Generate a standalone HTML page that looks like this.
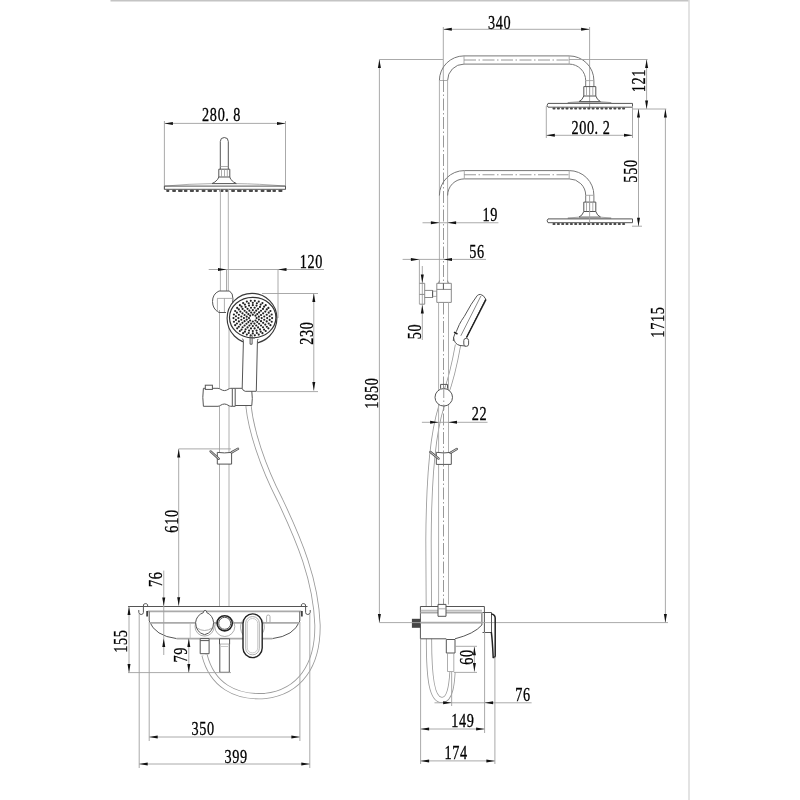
<!DOCTYPE html>
<html><head><meta charset="utf-8"><style>
html,body{margin:0;padding:0;background:#fff;}
svg{display:block;will-change:transform;}
text{font-family:"Liberation Serif",serif;font-size:19.5px;fill:#000;stroke:#000;stroke-width:0.32;text-anchor:middle;}
.o{stroke:#555;stroke-width:1;fill:none;}
.a{stroke:#777;stroke-width:1;fill:none;}
.m{stroke:#8a8a8a;stroke-width:1;fill:none;}
.p{stroke:#b0b0b0;stroke-width:1;fill:none;}
.o2{stroke:#222;stroke-width:1.5;fill:none;}
.l{stroke:#999;stroke-width:0.8;fill:none;}
.h{stroke:#bbb;stroke-width:0.8;fill:none;}
.d{stroke:#a0a0a0;stroke-width:0.9;fill:none;}
.c{stroke:#8c8c8c;stroke-width:0.9;fill:none;stroke-dasharray:12 2.5 1.5 2.5;}
.g2{stroke:#aaa;stroke-width:1.8;fill:none;}
.ar{fill:#111;stroke:none;}
.nz{fill:#4a4a4a;}
.n{stroke:none;}
.w1{stroke:#555;stroke-width:2.4;stroke-linecap:round;fill:none;}
.w2{stroke:#fff;stroke-width:0.7;stroke-linecap:round;fill:none;}
.dt{fill:#222;}
.bd{stroke:#c4c4c4;stroke-width:1.6;}
.bd2{stroke:#dcdcdc;stroke-width:1.6;}
.hoseo{stroke:#9a9a9a;stroke-width:6.2;fill:none;}
.hosei{stroke:#fff;stroke-width:4.5;fill:none;}
</style></head><body>
<svg width="800" height="800" viewBox="0 0 800 800">
<path class="hoseo" d="M248.5 406 C251 430 262 465 280 500 C299 540 316 580 317.5 625 C318 665 300 692 265 696 C235 698 212 685 204.5 655"/>
<path class="hosei" d="M248.5 406 C251 430 262 465 280 500 C299 540 316 580 317.5 625 C318 665 300 692 265 696 C235 698 212 685 204.5 655"/>
<path class="hoseo" d="M458 345 C455 362 451 380 445 396 C437 416 429 450 428.5 540 L429 640 C429 680 432 700 442 700 C451 700 452 680 452.5 672"/>
<path class="hosei" d="M458 345 C455 362 451 380 445 396 C437 416 429 450 428.5 540 L429 640 C429 680 432 700 442 700 C451 700 452 680 452.5 672"/>
<line class="bd" x1="110.5" y1="0.6" x2="689" y2="0.6"/>
<line class="bd2" x1="689" y1="0" x2="689" y2="800"/>
<line class="d" x1="164.4" y1="123.4" x2="285.5" y2="123.4"/>
<path class="ar" d="M164.40 123.40L172.90 121.90L172.90 124.90Z"/>
<path class="ar" d="M285.50 123.40L277.00 124.90L277.00 121.90Z"/>
<line class="d" x1="164.4" y1="121" x2="164.4" y2="189.5"/>
<line class="d" x1="285.5" y1="121" x2="285.5" y2="189.5"/>
<text transform="translate(221.20 114.80) scale(0.73 1)" x="-21.37 -10.68 0.00 7.95 21.37" y="6.48">280.8</text>
<path class="o" d="M220.3 169.2V141.5A4 4 0 0 1 228.3 141.5V169.2" />
<line class="l" x1="220.3" y1="166.5" x2="228.3" y2="166.5"/>
<path class="o" d="M218.8 169.2H229.8V177H218.8Z" />
<line class="l" x1="221.5" y1="169.5" x2="221.5" y2="177"/>
<line class="l" x1="224.5" y1="169.5" x2="224.5" y2="177"/>
<line class="l" x1="227.3" y1="169.5" x2="227.3" y2="177"/>
<path class="o" d="M218.8 177L217.7 179.3Q215 182.5 212 183.6H236.5Q233.5 182.5 230.7 179.3L229.8 177" />
<path class="l" d="M164.4 186.1Q190 183.8 212 183.6M236.5 183.6Q258 183.8 285.5 186.1" />
<path class="o" d="M164.4 186.1H285.5V189.3H164.4Z" />
<rect class="nz" x="166.2" y="189.7" width="3.2" height="2.3" rx="1"/>
<rect class="nz" x="172.1" y="189.7" width="3.9" height="2.3" rx="1"/>
<rect class="nz" x="178.0" y="189.7" width="4.6" height="2.3" rx="1"/>
<rect class="nz" x="183.9" y="189.7" width="3.6" height="2.3" rx="1"/>
<rect class="nz" x="189.8" y="189.7" width="4.2" height="2.3" rx="1"/>
<rect class="nz" x="195.7" y="189.7" width="3.2" height="2.3" rx="1"/>
<rect class="nz" x="201.6" y="189.7" width="3.9" height="2.3" rx="1"/>
<rect class="nz" x="207.5" y="189.7" width="4.6" height="2.3" rx="1"/>
<rect class="nz" x="213.4" y="189.7" width="3.6" height="2.3" rx="1"/>
<rect class="nz" x="219.3" y="189.7" width="4.2" height="2.3" rx="1"/>
<rect class="nz" x="225.2" y="189.7" width="3.2" height="2.3" rx="1"/>
<rect class="nz" x="231.1" y="189.7" width="3.9" height="2.3" rx="1"/>
<rect class="nz" x="237.0" y="189.7" width="4.6" height="2.3" rx="1"/>
<rect class="nz" x="242.9" y="189.7" width="3.6" height="2.3" rx="1"/>
<rect class="nz" x="248.8" y="189.7" width="4.2" height="2.3" rx="1"/>
<rect class="nz" x="254.7" y="189.7" width="3.2" height="2.3" rx="1"/>
<rect class="nz" x="260.6" y="189.7" width="3.9" height="2.3" rx="1"/>
<rect class="nz" x="266.5" y="189.7" width="4.6" height="2.3" rx="1"/>
<rect class="nz" x="272.4" y="189.7" width="3.6" height="2.3" rx="1"/>
<rect class="nz" x="278.3" y="189.7" width="4.2" height="2.3" rx="1"/>
<line class="p" x1="220.4" y1="189.3" x2="220.4" y2="291"/>
<line class="p" x1="228.3" y1="189.3" x2="228.3" y2="291"/>
<line class="p" x1="219.5" y1="310" x2="219.5" y2="606.5"/>
<line class="p" x1="229.0" y1="310" x2="229.0" y2="606.5"/>
<line class="d" x1="208.7" y1="269.5" x2="324" y2="269.5"/>
<path class="ar" d="M226.50 269.50L218.00 271.00L218.00 268.00Z"/>
<path class="ar" d="M278.00 269.50L286.50 268.00L286.50 271.00Z"/>
<line class="d" x1="226.5" y1="269.5" x2="226.5" y2="291"/>
<line class="d" x1="278" y1="269.5" x2="278" y2="318"/>
<text transform="translate(311.00 261.40) scale(0.73 1)" x="-10.68 0.00 10.68" y="6.48">120</text>
<path class="o" d="M219 291H229.5Q233 293 233 299Q233 305 230 309M219 291Q212.5 294 212.5 301.5Q212.5 309 219 312.5H226" />
<line class="l" x1="217.2" y1="298.4" x2="232.5" y2="298.4"/>
<line class="l" x1="217.4" y1="298.4" x2="217.4" y2="312"/>
<line class="l" x1="224.4" y1="298.4" x2="224.4" y2="312"/>
<ellipse cx="252" cy="318.3" rx="24.9" ry="25" fill="#fff" stroke="#3a3a3a" stroke-width="1.15"/>
<path class="n" d="M243.4 341.6Q243.6 340 242.4 338.6L243 336H257L258 339Q257.3 340.5 257.4 342.3L256.3 391.3H245.2Q242.6 390.6 242.2 388.3Z" style="fill:#fff"/>
<path class="o" d="M243.4 341.6Q243.6 340 242.4 338.6" />
<path class="o" d="M257.4 342.3Q257.3 340.5 258 339" />
<path class="o" d="M243.4 341.6L242.2 388.3Q242.6 390.6 245.2 391.3H256.3L257.4 342.3" />
<ellipse cx="252.7" cy="317.6" rx="23.2" ry="20.2" fill="#fff" stroke="#333" stroke-width="1.2"/>
<circle class="dt" cx="256.60" cy="318.10" r="1.08"/>
<circle class="dt" cx="255.49" cy="320.52" r="1.08"/>
<circle class="dt" cx="252.80" cy="321.52" r="1.08"/>
<circle class="dt" cx="250.11" cy="320.52" r="1.08"/>
<circle class="dt" cx="249.00" cy="318.10" r="1.08"/>
<circle class="dt" cx="250.11" cy="315.68" r="1.08"/>
<circle class="dt" cx="252.80" cy="314.68" r="1.08"/>
<circle class="dt" cx="255.49" cy="315.68" r="1.08"/>
<circle class="dt" cx="258.89" cy="319.57" r="1.08"/>
<circle class="dt" cx="257.25" cy="322.11" r="1.08"/>
<circle class="dt" cx="254.43" cy="323.58" r="1.08"/>
<circle class="dt" cx="251.17" cy="323.58" r="1.08"/>
<circle class="dt" cx="248.35" cy="322.11" r="1.08"/>
<circle class="dt" cx="246.71" cy="319.57" r="1.08"/>
<circle class="dt" cx="246.71" cy="316.63" r="1.08"/>
<circle class="dt" cx="248.35" cy="314.09" r="1.08"/>
<circle class="dt" cx="251.17" cy="312.62" r="1.08"/>
<circle class="dt" cx="254.43" cy="312.62" r="1.08"/>
<circle class="dt" cx="257.25" cy="314.09" r="1.08"/>
<circle class="dt" cx="258.89" cy="316.63" r="1.08"/>
<circle class="dt" cx="261.70" cy="318.10" r="1.08"/>
<circle class="dt" cx="261.02" cy="321.17" r="1.08"/>
<circle class="dt" cx="259.09" cy="323.76" r="1.08"/>
<circle class="dt" cx="256.21" cy="325.50" r="1.08"/>
<circle class="dt" cx="252.80" cy="326.11" r="1.08"/>
<circle class="dt" cx="249.39" cy="325.50" r="1.08"/>
<circle class="dt" cx="246.51" cy="323.76" r="1.08"/>
<circle class="dt" cx="244.58" cy="321.17" r="1.08"/>
<circle class="dt" cx="243.90" cy="318.10" r="1.08"/>
<circle class="dt" cx="244.58" cy="315.03" r="1.08"/>
<circle class="dt" cx="246.51" cy="312.44" r="1.08"/>
<circle class="dt" cx="249.39" cy="310.70" r="1.08"/>
<circle class="dt" cx="252.80" cy="310.09" r="1.08"/>
<circle class="dt" cx="256.21" cy="310.70" r="1.08"/>
<circle class="dt" cx="259.09" cy="312.44" r="1.08"/>
<circle class="dt" cx="261.02" cy="315.03" r="1.08"/>
<circle class="dt" cx="264.26" cy="319.73" r="1.08"/>
<circle class="dt" cx="263.14" cy="322.84" r="1.08"/>
<circle class="dt" cx="261.00" cy="325.48" r="1.08"/>
<circle class="dt" cx="258.07" cy="327.40" r="1.08"/>
<circle class="dt" cx="254.61" cy="328.41" r="1.08"/>
<circle class="dt" cx="250.99" cy="328.41" r="1.08"/>
<circle class="dt" cx="247.53" cy="327.40" r="1.08"/>
<circle class="dt" cx="244.60" cy="325.48" r="1.08"/>
<circle class="dt" cx="242.46" cy="322.84" r="1.08"/>
<circle class="dt" cx="241.34" cy="319.73" r="1.08"/>
<circle class="dt" cx="241.34" cy="316.47" r="1.08"/>
<circle class="dt" cx="242.46" cy="313.36" r="1.08"/>
<circle class="dt" cx="244.60" cy="310.72" r="1.08"/>
<circle class="dt" cx="247.53" cy="308.80" r="1.08"/>
<circle class="dt" cx="250.99" cy="307.79" r="1.08"/>
<circle class="dt" cx="254.61" cy="307.79" r="1.08"/>
<circle class="dt" cx="258.07" cy="308.80" r="1.08"/>
<circle class="dt" cx="261.00" cy="310.72" r="1.08"/>
<circle class="dt" cx="263.14" cy="313.36" r="1.08"/>
<circle class="dt" cx="264.26" cy="316.47" r="1.08"/>
<circle class="dt" cx="267.20" cy="318.10" r="1.08"/>
<circle class="dt" cx="266.71" cy="321.45" r="1.08"/>
<circle class="dt" cx="265.27" cy="324.58" r="1.08"/>
<circle class="dt" cx="262.98" cy="327.26" r="1.08"/>
<circle class="dt" cx="260.00" cy="329.32" r="1.08"/>
<circle class="dt" cx="256.53" cy="330.62" r="1.08"/>
<circle class="dt" cx="252.80" cy="331.06" r="1.08"/>
<circle class="dt" cx="249.07" cy="330.62" r="1.08"/>
<circle class="dt" cx="245.60" cy="329.32" r="1.08"/>
<circle class="dt" cx="242.62" cy="327.26" r="1.08"/>
<circle class="dt" cx="240.33" cy="324.58" r="1.08"/>
<circle class="dt" cx="238.89" cy="321.45" r="1.08"/>
<circle class="dt" cx="238.40" cy="318.10" r="1.08"/>
<circle class="dt" cx="238.89" cy="314.75" r="1.08"/>
<circle class="dt" cx="240.33" cy="311.62" r="1.08"/>
<circle class="dt" cx="242.62" cy="308.94" r="1.08"/>
<circle class="dt" cx="245.60" cy="306.88" r="1.08"/>
<circle class="dt" cx="249.07" cy="305.58" r="1.08"/>
<circle class="dt" cx="252.80" cy="305.14" r="1.08"/>
<circle class="dt" cx="256.53" cy="305.58" r="1.08"/>
<circle class="dt" cx="260.00" cy="306.88" r="1.08"/>
<circle class="dt" cx="262.98" cy="308.94" r="1.08"/>
<circle class="dt" cx="265.27" cy="311.62" r="1.08"/>
<circle class="dt" cx="266.71" cy="314.75" r="1.08"/>
<circle class="dt" cx="269.68" cy="319.94" r="1.08"/>
<circle class="dt" cx="268.70" cy="323.53" r="1.08"/>
<circle class="dt" cx="266.79" cy="326.79" r="1.08"/>
<circle class="dt" cx="264.07" cy="329.55" r="1.08"/>
<circle class="dt" cx="260.70" cy="331.65" r="1.08"/>
<circle class="dt" cx="256.87" cy="332.96" r="1.08"/>
<circle class="dt" cx="252.80" cy="333.40" r="1.08"/>
<circle class="dt" cx="248.73" cy="332.96" r="1.08"/>
<circle class="dt" cx="244.90" cy="331.65" r="1.08"/>
<circle class="dt" cx="241.53" cy="329.55" r="1.08"/>
<circle class="dt" cx="238.81" cy="326.79" r="1.08"/>
<circle class="dt" cx="236.90" cy="323.53" r="1.08"/>
<circle class="dt" cx="235.92" cy="319.94" r="1.08"/>
<circle class="dt" cx="235.92" cy="316.26" r="1.08"/>
<circle class="dt" cx="236.90" cy="312.67" r="1.08"/>
<circle class="dt" cx="238.81" cy="309.41" r="1.08"/>
<circle class="dt" cx="241.53" cy="306.65" r="1.08"/>
<circle class="dt" cx="244.90" cy="304.55" r="1.08"/>
<circle class="dt" cx="248.73" cy="303.24" r="1.08"/>
<circle class="dt" cx="252.80" cy="302.80" r="1.08"/>
<circle class="dt" cx="256.87" cy="303.24" r="1.08"/>
<circle class="dt" cx="260.70" cy="304.55" r="1.08"/>
<circle class="dt" cx="264.07" cy="306.65" r="1.08"/>
<circle class="dt" cx="266.79" cy="309.41" r="1.08"/>
<circle class="dt" cx="268.70" cy="312.67" r="1.08"/>
<circle class="dt" cx="269.68" cy="316.26" r="1.08"/>
<circle class="dt" cx="272.10" cy="318.10" r="1.08"/>
<circle class="dt" cx="271.68" cy="321.71" r="1.08"/>
<circle class="dt" cx="270.43" cy="325.17" r="1.08"/>
<circle class="dt" cx="268.41" cy="328.31" r="1.08"/>
<circle class="dt" cx="265.71" cy="331.01" r="1.08"/>
<circle class="dt" cx="262.45" cy="333.14" r="1.08"/>
<circle class="dt" cx="258.76" cy="334.62" r="1.08"/>
<circle class="dt" cx="254.82" cy="335.37" r="1.08"/>
<circle class="dt" cx="250.78" cy="335.37" r="1.08"/>
<circle class="dt" cx="246.84" cy="334.62" r="1.08"/>
<circle class="dt" cx="243.15" cy="333.14" r="1.08"/>
<circle class="dt" cx="239.89" cy="331.01" r="1.08"/>
<circle class="dt" cx="237.19" cy="328.31" r="1.08"/>
<circle class="dt" cx="235.17" cy="325.17" r="1.08"/>
<circle class="dt" cx="233.92" cy="321.71" r="1.08"/>
<circle class="dt" cx="233.50" cy="318.10" r="1.08"/>
<circle class="dt" cx="233.92" cy="314.49" r="1.08"/>
<circle class="dt" cx="235.17" cy="311.03" r="1.08"/>
<circle class="dt" cx="237.19" cy="307.89" r="1.08"/>
<circle class="dt" cx="239.89" cy="305.19" r="1.08"/>
<circle class="dt" cx="243.15" cy="303.06" r="1.08"/>
<circle class="dt" cx="246.84" cy="301.58" r="1.08"/>
<circle class="dt" cx="250.78" cy="300.83" r="1.08"/>
<circle class="dt" cx="254.82" cy="300.83" r="1.08"/>
<circle class="dt" cx="258.76" cy="301.58" r="1.08"/>
<circle class="dt" cx="262.45" cy="303.06" r="1.08"/>
<circle class="dt" cx="265.71" cy="305.19" r="1.08"/>
<circle class="dt" cx="268.41" cy="307.89" r="1.08"/>
<circle class="dt" cx="270.43" cy="311.03" r="1.08"/>
<circle class="dt" cx="271.68" cy="314.49" r="1.08"/>
<path class="o" d="M250.1 335.3V344.2H252.1V335.3" />
<line class="d" x1="262" y1="293.5" x2="318" y2="293.5"/>
<line class="d" x1="257" y1="391.6" x2="318" y2="391.6"/>
<line class="d" x1="313.8" y1="293.5" x2="313.8" y2="390.6"/>
<path class="ar" d="M313.80 293.50L315.30 302.00L312.30 302.00Z"/>
<path class="ar" d="M313.80 390.60L312.30 382.10L315.30 382.10Z"/>
<text transform="translate(306.30 333.40) rotate(-90) scale(0.73 1)" x="-10.68 0.00 10.68" y="6.48">230</text>
<path class="o" d="M203.4 388.3H218C220 388.3 221.5 390.6 224.4 390.6C227.3 390.6 228.8 388.3 230.8 388.3H232.3V406.3H230.8C228.8 406.3 227.3 404 224.4 404C221.5 404 220 406.3 218 406.3H203.4Q202.2 397.3 203.4 388.3Z" style="fill:#fff"/>
<path class="o" d="M232.3 388.3H235.2V406.3H232.3" />
<path class="o" d="M235.2 388.3H242.2M251.8 391.3Q252.8 398.4 251.8 405.5H235.2" />
<rect class="o" x="205.3" y="385.2" width="7.1" height="4.2" style="fill:#fff"/>
<path class="o" d="M217.3 452.4Q224.4 453.4 231.6 452.4V464.1H217.3Z" style="fill:#fff"/>
<path class="w1" d="M218.8 458.8L210.6 451.4" />
<path class="w2" d="M218.8 458.8L210.6 451.4" />
<path class="w1" d="M231.6 452.4L238 448.8" />
<path class="w2" d="M231.6 452.4L238 448.8" />
<line class="d" x1="178.7" y1="448.9" x2="231" y2="448.9"/>
<line class="d" x1="178.7" y1="448.9" x2="178.7" y2="605.8"/>
<path class="ar" d="M178.70 448.90L180.20 457.40L177.20 457.40Z"/>
<path class="ar" d="M178.70 605.80L177.20 597.30L180.20 597.30Z"/>
<text transform="translate(171.50 521.30) rotate(-90) scale(0.73 1)" x="-10.68 0.00 10.68" y="6.48">610</text>
<line class="o" x1="128" y1="606.5" x2="307.5" y2="606.5"/>
<path class="g2" d="M147.7 611.3H301.3" />
<path class="o" d="M149.2 611.5V621Q155 636 176.6 638.6" />
<path class="o" d="M299.8 611.5V621Q294 636 272.4 638.6" />
<path class="g2" d="M176.6 638.6H272.4" />
<path class="g2" d="M150 622.8H299" />
<line class="h" x1="190.2" y1="622.8" x2="190.2" y2="638.5"/>
<path class="o" d="M147.6 606.5V604.6Q147.2 603.6 145.2 603.6Q142.8 603.8 143.4 606.5V612.5Q143.2 614.5 141.2 614.5Q139 614.4 138.8 612.4V610" />
<path class="o" d="M301.4 606.5V604.6Q301.8 603.6 303.8 603.6Q306.2 603.8 305.6 606.5V612.5Q305.8 614.5 307.8 614.5Q310 614.4 310.2 612.4V610" />
<line class="o2" x1="147.1" y1="611" x2="147.1" y2="616.4"/>
<line class="o2" x1="301.9" y1="611" x2="301.9" y2="616.4"/>
<circle class="l" cx="204.6" cy="626.5" r="9.6"/>
<path class="o" d="M205.1 610.4Q206.8 610.5 206.8 612.6Q212.8 615.3 213.6 622.5Q213.4 632.5 204.6 634.7Q195.8 632.5 195.6 622.5Q196.4 615.3 203.4 612.6Q203.4 610.5 205.1 610.4Z" style="fill:#fff"/>
<path class="l" d="M197 628Q204.6 633 212.2 628" />
<circle class="l" cx="224.8" cy="626.5" r="10"/>
<circle cx="224.7" cy="623.3" r="7.6" fill="#fff" stroke="#222" stroke-width="1.6"/>
<circle class="o" cx="224.7" cy="623.3" r="6.0"/>
<path class="l" d="M241.8 621.5Q238.8 628 243 635M263 621.5Q266.2 628 262 634" />
<rect x="243" y="613.9" width="19.2" height="43.7" rx="9.6" fill="#fff" stroke="#222" stroke-width="1.4"/>
<rect class="l" x="245.7" y="616.6" width="13.6" height="38.2" rx="6.5"/>
<rect class="h" x="247.3" y="618.5" width="10.4" height="34.4" rx="5"/>
<path class="l" d="M266.6 622V616.5Q266.6 615 268.3 615Q270 615 270 616.5V622" />
<path class="o" d="M200.2 638.6H209.1V653.7H200.2Z" style="fill:#fff"/>
<line class="o" x1="200.2" y1="640.6" x2="209.1" y2="640.6"/>
<path class="o" d="M219.5 638.8H229.6V644.3H219.5Z" style="fill:#fff"/>
<path class="o" d="M219.8 644.3V672.3H229.3V644.3" style="fill:#fff"/>
<line class="h" x1="221" y1="646.5" x2="228" y2="646.5"/>
<line class="d" x1="128" y1="672.6" x2="231" y2="672.6"/>
<line class="d" x1="129" y1="606.5" x2="129" y2="672.6"/>
<path class="ar" d="M129.00 606.50L130.50 615.00L127.50 615.00Z"/>
<path class="ar" d="M129.00 672.60L127.50 664.10L130.50 664.10Z"/>
<text transform="translate(120.70 641.50) rotate(-90) scale(0.73 1)" x="-10.68 0.00 10.68" y="6.48">155</text>
<line class="d" x1="163.75" y1="570.6" x2="163.75" y2="655"/>
<path class="ar" d="M163.75 605.90L162.25 597.40L165.25 597.40Z"/>
<path class="ar" d="M163.75 638.50L165.25 647.00L162.25 647.00Z"/>
<text transform="translate(155.60 579.50) rotate(-90) scale(0.73 1)" x="-5.34 5.34" y="6.48">76</text>
<line class="d" x1="188.8" y1="638.5" x2="188.8" y2="672.6"/>
<path class="ar" d="M188.80 638.50L190.30 647.00L187.30 647.00Z"/>
<path class="ar" d="M188.80 672.60L187.30 664.10L190.30 664.10Z"/>
<text transform="translate(180.70 655.00) rotate(-90) scale(0.73 1)" x="-5.34 5.34" y="6.48">79</text>
<line class="d" x1="149.2" y1="622" x2="149.2" y2="741"/>
<line class="d" x1="299.9" y1="622" x2="299.9" y2="741"/>
<line class="d" x1="149.2" y1="737" x2="299.9" y2="737"/>
<path class="ar" d="M149.20 737.00L157.70 735.50L157.70 738.50Z"/>
<path class="ar" d="M299.90 737.00L291.40 738.50L291.40 735.50Z"/>
<text transform="translate(202.80 728.70) scale(0.73 1)" x="-10.68 0.00 10.68" y="6.48">350</text>
<line class="d" x1="139.2" y1="614" x2="139.2" y2="768"/>
<line class="d" x1="309.8" y1="614" x2="309.8" y2="768"/>
<line class="d" x1="139.2" y1="764" x2="309.8" y2="764"/>
<path class="ar" d="M139.20 764.00L147.70 762.50L147.70 765.50Z"/>
<path class="ar" d="M309.80 764.00L301.30 765.50L301.30 762.50Z"/>
<text transform="translate(235.80 756.50) scale(0.73 1)" x="-10.68 0.00 10.68" y="6.48">399</text>
<line class="d" x1="443.3" y1="29.3" x2="589.6" y2="29.3"/>
<path class="ar" d="M443.30 29.30L451.80 27.80L451.80 30.80Z"/>
<path class="ar" d="M589.60 29.30L581.10 30.80L581.10 27.80Z"/>
<text transform="translate(499.30 23.00) scale(0.73 1)" x="-10.68 0.00 10.68" y="6.48">340</text>
<line class="d" x1="443.3" y1="27" x2="443.3" y2="80"/>
<line class="d" x1="589.6" y1="27" x2="589.6" y2="108"/>
<path class="a" d="M439.4 80.5A24.6 24.6 0 0 1 464 55.9H569.2A24.7 24.7 0 0 1 593.9 80.6V86.6" />
<path class="a" d="M447.6 80.5A16.4 16.4 0 0 1 464 64.1H569.2A16.5 16.5 0 0 1 585.7 80.6V86.6" />
<line class="p" x1="439.4" y1="80.5" x2="439.4" y2="283"/>
<line class="p" x1="447.6" y1="80.5" x2="447.6" y2="283"/>
<line class="l" x1="439.4" y1="80.5" x2="447.6" y2="80.5"/>
<line class="l" x1="464" y1="55.9" x2="464" y2="64.1"/>
<line class="l" x1="569.2" y1="55.9" x2="569.2" y2="64.1"/>
<line class="l" x1="585.7" y1="80.6" x2="593.9" y2="80.6"/>
<line class="c" x1="443.5" y1="80" x2="443.5" y2="283"/>
<line class="c" x1="464" y1="60" x2="569" y2="60"/>
<path class="a" d="M439.4 195.5A24.9 24.9 0 0 1 464.3 170.6H569.2A24.7 24.7 0 0 1 593.9 195.3V202" />
<path class="a" d="M447.6 195.5A16.6 16.6 0 0 1 464.3 178.9H569.2A16.5 16.5 0 0 1 585.7 195.3V202" />
<line class="l" x1="464.3" y1="170.6" x2="464.3" y2="178.9"/>
<line class="l" x1="569.2" y1="170.6" x2="569.2" y2="178.9"/>
<line class="l" x1="585.7" y1="195.3" x2="593.9" y2="195.3"/>
<line class="c" x1="464" y1="174.75" x2="569" y2="174.75"/>
<path class="o" d="M583.8 86.6H595.8V96H583.8Z" />
<line class="l" x1="586.5" y1="87" x2="586.5" y2="95.6"/>
<line class="l" x1="589.6" y1="87" x2="589.6" y2="95.6"/>
<line class="l" x1="592.8" y1="87" x2="592.8" y2="95.6"/>
<path class="o" d="M583.8 96Q582.5 100 579 101.6H600.6Q597 100 595.8 96" />
<path class="l" d="M579 101.6L567.8 102.6H611.2L600.6 101.6" />
<path class="o" d="M548 103.4H632.5V107.2H548Q546.2 105.3 548 103.4Z" />
<rect class="nz" x="552.5" y="107.6" width="3.0" height="2.0" rx="0.8"/>
<rect class="nz" x="556.9" y="107.6" width="3.0" height="2.0" rx="0.8"/>
<rect class="nz" x="561.2" y="107.6" width="3.0" height="2.0" rx="0.8"/>
<rect class="nz" x="565.5" y="107.6" width="3.0" height="2.0" rx="0.8"/>
<rect class="nz" x="569.9" y="107.6" width="3.0" height="2.0" rx="0.8"/>
<rect class="nz" x="574.2" y="107.6" width="3.0" height="2.0" rx="0.8"/>
<rect class="nz" x="578.6" y="107.6" width="3.0" height="2.0" rx="0.8"/>
<rect class="nz" x="583.0" y="107.6" width="3.0" height="2.0" rx="0.8"/>
<rect class="nz" x="587.3" y="107.6" width="3.0" height="2.0" rx="0.8"/>
<rect class="nz" x="591.6" y="107.6" width="3.0" height="2.0" rx="0.8"/>
<rect class="nz" x="596.0" y="107.6" width="3.0" height="2.0" rx="0.8"/>
<rect class="nz" x="600.4" y="107.6" width="3.0" height="2.0" rx="0.8"/>
<rect class="nz" x="604.7" y="107.6" width="3.0" height="2.0" rx="0.8"/>
<rect class="nz" x="609.0" y="107.6" width="3.0" height="2.0" rx="0.8"/>
<rect class="nz" x="613.4" y="107.6" width="3.0" height="2.0" rx="0.8"/>
<rect class="nz" x="617.8" y="107.6" width="3.0" height="2.0" rx="0.8"/>
<rect class="nz" x="622.1" y="107.6" width="3.0" height="2.0" rx="0.8"/>
<path class="o" d="M583.8 202.1H595.8V211.5H583.8Z" />
<line class="l" x1="586.5" y1="202.5" x2="586.5" y2="211.1"/>
<line class="l" x1="589.6" y1="202.5" x2="589.6" y2="211.1"/>
<line class="l" x1="592.8" y1="202.5" x2="592.8" y2="211.1"/>
<path class="o" d="M583.8 211.5Q582.5 215.5 579 217.1H600.6Q597 215.5 595.8 211.5" />
<path class="l" d="M579 217.1L567.8 218.1H611.2L600.6 217.1" />
<path class="o" d="M548 218.9H632.5V222.7H548Q546.2 220.8 548 218.9Z" />
<rect class="nz" x="552.5" y="223.1" width="3.0" height="2.0" rx="0.8"/>
<rect class="nz" x="556.9" y="223.1" width="3.0" height="2.0" rx="0.8"/>
<rect class="nz" x="561.2" y="223.1" width="3.0" height="2.0" rx="0.8"/>
<rect class="nz" x="565.5" y="223.1" width="3.0" height="2.0" rx="0.8"/>
<rect class="nz" x="569.9" y="223.1" width="3.0" height="2.0" rx="0.8"/>
<rect class="nz" x="574.2" y="223.1" width="3.0" height="2.0" rx="0.8"/>
<rect class="nz" x="578.6" y="223.1" width="3.0" height="2.0" rx="0.8"/>
<rect class="nz" x="583.0" y="223.1" width="3.0" height="2.0" rx="0.8"/>
<rect class="nz" x="587.3" y="223.1" width="3.0" height="2.0" rx="0.8"/>
<rect class="nz" x="591.6" y="223.1" width="3.0" height="2.0" rx="0.8"/>
<rect class="nz" x="596.0" y="223.1" width="3.0" height="2.0" rx="0.8"/>
<rect class="nz" x="600.4" y="223.1" width="3.0" height="2.0" rx="0.8"/>
<rect class="nz" x="604.7" y="223.1" width="3.0" height="2.0" rx="0.8"/>
<rect class="nz" x="609.0" y="223.1" width="3.0" height="2.0" rx="0.8"/>
<rect class="nz" x="613.4" y="223.1" width="3.0" height="2.0" rx="0.8"/>
<rect class="nz" x="617.8" y="223.1" width="3.0" height="2.0" rx="0.8"/>
<rect class="nz" x="622.1" y="223.1" width="3.0" height="2.0" rx="0.8"/>
<line class="d" x1="589.6" y1="195" x2="589.6" y2="223"/>
<line class="d" x1="569" y1="59.5" x2="647.6" y2="59.5"/>
<line class="d" x1="646.6" y1="59.5" x2="646.6" y2="109"/>
<path class="ar" d="M646.60 59.50L648.10 68.00L645.10 68.00Z"/>
<path class="ar" d="M646.60 109.00L645.10 100.50L648.10 100.50Z"/>
<text transform="translate(638.60 81.00) rotate(-90) scale(0.73 1)" x="-10.68 0.00 10.68" y="6.48">121</text>
<line class="d" x1="632.5" y1="109" x2="666.3" y2="109"/>
<line class="d" x1="546.3" y1="106" x2="546.3" y2="138"/>
<line class="d" x1="632.5" y1="106" x2="632.5" y2="138"/>
<line class="d" x1="546.3" y1="135.3" x2="632.5" y2="135.3"/>
<path class="ar" d="M546.30 135.30L554.80 133.80L554.80 136.80Z"/>
<path class="ar" d="M632.50 135.30L624.00 136.80L624.00 133.80Z"/>
<text transform="translate(590.60 127.30) scale(0.73 1)" x="-21.37 -10.68 0.00 7.95 21.37" y="6.48">200.2</text>
<line class="d" x1="638.5" y1="109" x2="638.5" y2="226.2"/>
<path class="ar" d="M638.50 109.00L640.00 117.50L637.00 117.50Z"/>
<path class="ar" d="M638.50 226.20L637.00 217.70L640.00 217.70Z"/>
<line class="d" x1="632" y1="226.2" x2="642" y2="226.2"/>
<text transform="translate(630.10 171.30) rotate(-90) scale(0.73 1)" x="-10.68 0.00 10.68" y="6.48">550</text>
<line class="d" x1="665.4" y1="109" x2="665.4" y2="622.6"/>
<path class="ar" d="M665.40 109.00L666.90 117.50L663.90 117.50Z"/>
<path class="ar" d="M665.40 622.60L663.90 614.10L666.90 614.10Z"/>
<text transform="translate(657.40 322.40) rotate(-90) scale(0.73 1)" x="-16.03 -5.34 5.34 16.03" y="6.48">1715</text>
<line class="d" x1="379.4" y1="59.5" x2="443" y2="59.5"/>
<line class="d" x1="379.4" y1="59.5" x2="379.4" y2="622.6"/>
<path class="ar" d="M379.40 59.50L380.90 68.00L377.90 68.00Z"/>
<path class="ar" d="M379.40 622.60L377.90 614.10L380.90 614.10Z"/>
<text transform="translate(371.90 393.40) rotate(-90) scale(0.73 1)" x="-16.03 -5.34 5.34 16.03" y="6.48">1850</text>
<line class="d" x1="422.5" y1="222.75" x2="498.4" y2="222.75"/>
<path class="ar" d="M439.40 222.75L430.90 224.25L430.90 221.25Z"/>
<path class="ar" d="M447.60 222.75L456.10 221.25L456.10 224.25Z"/>
<text transform="translate(490.00 214.50) scale(0.73 1)" x="-5.34 5.34" y="6.48">19</text>
<line class="d" x1="402.6" y1="259.4" x2="486" y2="259.4"/>
<path class="ar" d="M419.40 259.40L410.90 260.90L410.90 257.90Z"/>
<path class="ar" d="M443.50 259.40L452.00 257.90L452.00 260.90Z"/>
<text transform="translate(476.60 251.50) scale(0.73 1)" x="-5.34 5.34" y="6.48">56</text>
<line class="d" x1="419.4" y1="259.4" x2="419.4" y2="304"/>
<line class="d" x1="422.3" y1="266" x2="422.3" y2="340"/>
<path class="ar" d="M422.30 283.00L420.80 274.50L423.80 274.50Z"/>
<path class="ar" d="M422.30 305.00L423.80 313.50L420.80 313.50Z"/>
<text transform="translate(414.40 331.90) rotate(-90) scale(0.73 1)" x="-5.34 5.34" y="6.48">50</text>
<path class="m" d="M419.4 283.3H424.7V304.2H419.4" />
<line class="m" x1="419.4" y1="294.4" x2="424.7" y2="294.4"/>
<path class="m" d="M424.7 290.4H432.6V297.5H424.7" />
<line class="o" x1="432.6" y1="290.4" x2="432.6" y2="297.5"/>
<path class="l" d="M432.6 291.2H437V296.4H432.6" />
<path class="m" d="M436.8 283.3H451.3V302.4H436.8Z" style="fill:#fff"/>
<line class="m" x1="436.8" y1="289.4" x2="451.3" y2="289.4"/>
<path class="m" d="M439.4 280.5Q439.4 283 437.8 283.3M447.6 280.5Q447.6 283 449.4 283.3" />
<line class="o" x1="443.4" y1="283.3" x2="443.4" y2="289.4"/>
<line class="p" x1="438.6" y1="302.5" x2="438.6" y2="604.5"/>
<line class="p" x1="448.5" y1="302.5" x2="448.5" y2="604.5"/>
<line class="c" x1="443.5" y1="302.5" x2="443.5" y2="604.5"/>
<path class="o" d="M453.3 341L453.6 337.5Q454.6 333.6 456.4 331.4L459.4 324.4Q461.5 320.2 464.25 316.5L471.25 304.25L477.2 295.6Q478.6 294.4 480.3 294.4Q483.6 294.8 485.7 299L466.5 337.5" style="fill:#fff"/>
<path class="o2" d="M486 299.5L466.5 337.5" />
<line class="m" x1="480.9" y1="296" x2="460.8" y2="335.8"/>
<path class="o" d="M453.5 337Q454 344 460 345.5L466 346" />
<rect class="o" x="463.8" y="338.4" width="4.8" height="7.9" rx="2.2" style="fill:#fff"/>
<path class="o2" d="M454 332.2L457.5 334" />
<circle class="o" cx="443.75" cy="397.3" r="8.75" style="fill:#fff"/>
<path class="o" d="M440.6 388.7V384.4H447.5V388.7" />
<line class="c" x1="443.75" y1="386" x2="443.75" y2="410"/>
<line class="d" x1="421.9" y1="422.3" x2="487.5" y2="422.3"/>
<path class="ar" d="M438.60 422.30L430.10 423.80L430.10 420.80Z"/>
<path class="ar" d="M448.50 422.30L457.00 420.80L457.00 423.80Z"/>
<text transform="translate(479.10 414.00) scale(0.73 1)" x="-5.34 5.34" y="6.48">22</text>
<path class="o" d="M436.3 452.3Q443.8 453.6 451.3 452.3V464.4H436.3Z" style="fill:#fff"/>
<path class="w1" d="M438.6 458.6L430.4 452" />
<path class="w2" d="M438.6 458.6L430.4 452" />
<path class="w1" d="M450.6 452.8L456.8 449" />
<path class="w2" d="M450.6 452.8L456.8 449" />
<line class="c" x1="443.5" y1="452.5" x2="443.5" y2="464"/>
<path class="n" d="M420.4 606.5H484.4V632.5H481.9V625Q474 634 455 638.8H420.4Z" style="fill:#fff"/>
<path class="o" d="M420.4 606.5H484.4V632.5" />
<path class="o" d="M420.4 606.5V638.8H446.3" />
<path class="o" d="M455 638.8Q474 634 481.9 625V612.5" />
<line class="l" x1="420.4" y1="610.3" x2="482" y2="610.3"/>
<line class="g2" x1="420.4" y1="612.5" x2="482" y2="612.5"/>
<path class="o" d="M438 604.4H446V616.3H438Z" style="fill:#fff"/>
<line class="l" x1="438" y1="608.8" x2="446" y2="608.8"/>
<rect x="411.9" y="618.8" width="8.5" height="9" fill="#444"/>
<line class="d" x1="379.4" y1="622.6" x2="668" y2="622.6"/>
<line class="g2" x1="420.4" y1="622.6" x2="482" y2="622.6"/>
<path class="o" d="M482.5 612.5H491.5V632.5H482.5" />
<path class="o2" d="M491.3 614Q495 614.5 495.2 618V656Q494.6 658 493.2 657.5Q492.4 640 491.3 632" />
<path class="o" d="M446.3 639.5H455V653H446.3Z" />
<path class="l" d="M447.5 653V671.5H453.8V653" />
<line class="d" x1="455" y1="646.3" x2="477" y2="646.3"/>
<line class="d" x1="454" y1="672.4" x2="477" y2="672.4"/>
<line class="d" x1="474.4" y1="646.8" x2="474.4" y2="671.6"/>
<path class="ar" d="M474.40 646.80L475.90 655.30L472.90 655.30Z"/>
<path class="ar" d="M474.40 671.60L472.90 663.10L475.90 663.10Z"/>
<text transform="translate(466.30 657.30) rotate(-90) scale(0.73 1)" x="-5.34 5.34" y="6.48">60</text>
<line class="d" x1="451.65" y1="672" x2="451.65" y2="706"/>
<line class="d" x1="484.6" y1="632" x2="484.6" y2="733"/>
<line class="d" x1="494.9" y1="657" x2="494.9" y2="764"/>
<line class="d" x1="420.6" y1="638.8" x2="420.6" y2="764"/>
<line class="d" x1="434.5" y1="702.8" x2="531.6" y2="702.8"/>
<path class="ar" d="M451.65 702.80L443.15 704.30L443.15 701.30Z"/>
<path class="ar" d="M484.60 702.80L493.10 701.30L493.10 704.30Z"/>
<text transform="translate(522.70 694.30) scale(0.73 1)" x="-5.34 5.34" y="6.48">76</text>
<line class="d" x1="420.6" y1="729" x2="484.6" y2="729"/>
<path class="ar" d="M420.60 729.00L429.10 727.50L429.10 730.50Z"/>
<path class="ar" d="M484.60 729.00L476.10 730.50L476.10 727.50Z"/>
<text transform="translate(462.50 720.60) scale(0.73 1)" x="-10.68 0.00 10.68" y="6.48">149</text>
<line class="d" x1="420.6" y1="760.9" x2="494.9" y2="760.9"/>
<path class="ar" d="M420.60 760.90L429.10 759.40L429.10 762.40Z"/>
<path class="ar" d="M494.90 760.90L486.40 762.40L486.40 759.40Z"/>
<text transform="translate(455.80 752.60) scale(0.73 1)" x="-10.68 0.00 10.68" y="6.48">174</text>
</svg>
</body></html>
